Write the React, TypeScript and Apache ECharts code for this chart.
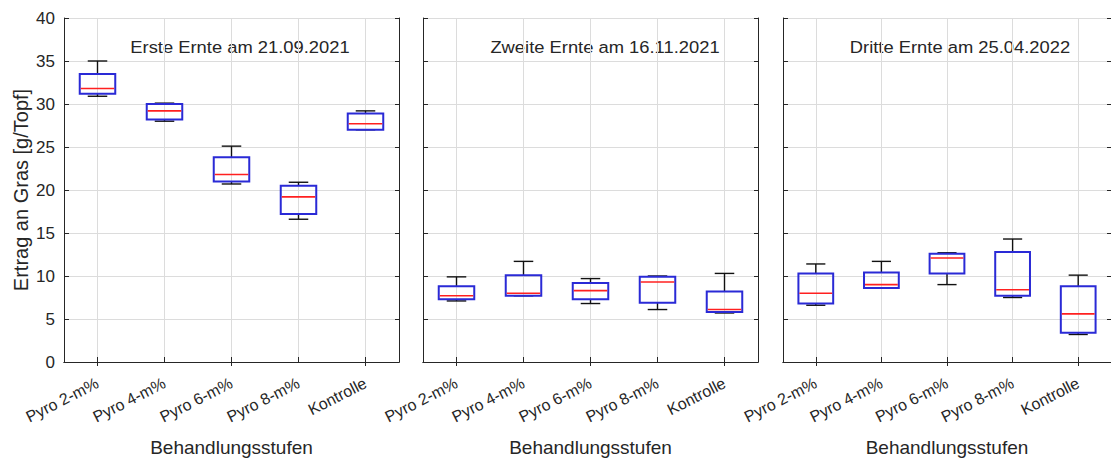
import React, { useEffect, useRef } from "react";
import * as echarts from "echarts";

const categories = ["Pyro 2-m%", "Pyro 4-m%", "Pyro 6-m%", "Pyro 8-m%", "Kontrolle"];
const panelTitles = [
  "Erste Ernte am 21.09.2021",
  "Zweite Ernte am 16.11.2021",
  "Dritte Ernte am 25.04.2022",
];
// each box: [lower whisker, Q1, median, Q3, upper whisker]
const ernte1 = [
  [30.9, 31.2, 31.8, 33.5, 35.0],
  [28.0, 28.2, 29.2, 30.0, 30.1],
  [20.7, 21.0, 21.8, 23.8, 25.1],
  [16.6, 17.2, 19.2, 20.5, 20.9],
  [27.0, 27.0, 27.7, 28.9, 29.2],
];
const ernte2 = [
  [7.1, 7.3, 7.7, 8.8, 9.9],
  [7.7, 7.7, 8.0, 10.1, 11.7],
  [6.8, 7.3, 8.3, 9.2, 9.7],
  [6.1, 6.9, 9.3, 9.9, 10.0],
  [5.7, 5.8, 6.1, 8.2, 10.3],
];
const ernte3 = [
  [6.6, 6.8, 8.0, 10.3, 11.4],
  [8.6, 8.6, 9.0, 10.4, 11.7],
  [9.0, 10.3, 12.1, 12.6, 12.7],
  [7.5, 7.7, 8.4, 12.8, 14.3],
  [3.2, 3.4, 5.6, 8.8, 10.1],
];
const yMin = 0;
const yMax = 40;
const yStep = 5;
const yAxisName = "Ertrag an Gras [g/Topf]";
const xAxisName = "Behandlungsstufen";

const FONT = "'Liberation Sans', Arial, Helvetica, sans-serif";
const TXT = "#262626";
const GRIDC = "#dcdcdc";

export default function App() {
  const ref = useRef<HTMLDivElement>(null);
  useEffect(() => {
    if (!ref.current) return;
    const chart = echarts.init(ref.current, null, { renderer: "svg" });
    const panels = [ernte1, ernte2, ernte3];
    const lefts = [64, 423, 783];
    const width = 335;
    const grids = lefts.map((l) => ({
      left: l,
      top: 18,
      width: width,
      height: 348,
      containLabel: false,
    }));
    const xAxes: any[] = [];
    const yAxes: any[] = [];
    const series: any[] = [];
    panels.forEach((data, i) => {
      xAxes.push({
        type: "category",
        gridIndex: i,
        data: categories,
        position: "bottom",
        boundaryGap: true,
        axisLine: { show: true, lineStyle: { color: TXT, width: 1 } },
        axisTick: { show: true, inside: true, alignWithLabel: true, length: 5, lineStyle: { color: TXT } },
        axisLabel: {
          rotate: 27,
          fontSize: 16,
          color: TXT,
          fontFamily: FONT,
          margin: 20,
          interval: 0,
        },
        splitLine: { show: true, alignWithLabel: true, lineStyle: { color: GRIDC, width: 1 } },
        name: xAxisName,
        nameLocation: "middle",
        nameGap: 76,
        nameTextStyle: { fontSize: 19, color: TXT, fontFamily: FONT },
      });
      xAxes.push({
        type: "category",
        gridIndex: i,
        data: categories,
        position: "top",
        boundaryGap: true,
        axisLine: { show: true, lineStyle: { color: TXT, width: 1 } },
        axisTick: { show: true, inside: true, alignWithLabel: true, length: 4, lineStyle: { color: TXT } },
        axisLabel: { show: false },
        splitLine: { show: false },
      });
      yAxes.push({
        type: "value",
        gridIndex: i,
        min: yMin,
        max: yMax,
        interval: yStep,
        position: "left",
        axisLine: { show: true, lineStyle: { color: TXT, width: 1 } },
        axisTick: { show: true, inside: true, length: 5, lineStyle: { color: TXT } },
        axisLabel: { show: i === 0, fontSize: 17, color: TXT, fontFamily: FONT, margin: 9 },
        splitLine: { show: true, lineStyle: { color: GRIDC, width: 1 } },
        name: i === 0 ? yAxisName : "",
        nameLocation: "middle",
        nameGap: 33,
        nameTextStyle: { fontSize: 20, color: TXT, fontFamily: FONT },
      });
      yAxes.push({
        type: "value",
        gridIndex: i,
        min: yMin,
        max: yMax,
        interval: yStep,
        position: "right",
        axisLine: { show: true, lineStyle: { color: TXT, width: 1 } },
        axisTick: { show: true, inside: true, length: 4, lineStyle: { color: TXT } },
        axisLabel: { show: false },
        splitLine: { show: false },
      });
      series.push({
        type: "custom",
        xAxisIndex: i * 2,
        yAxisIndex: i * 2,
        encode: { x: 0, y: [1, 2, 3, 4, 5] },
        data: data.map((d, k) => [k, ...d]),
        renderItem: (params: any, api: any) => {
          const k = api.value(0);
          const lo = api.coord([k, api.value(1)]);
          const q1 = api.coord([k, api.value(2)]);
          const md = api.coord([k, api.value(3)]);
          const q3 = api.coord([k, api.value(4)]);
          const hi = api.coord([k, api.value(5)]);
          const band = api.size([1, 0])[0];
          const bw = band * 0.53;
          const cw = bw * 0.55;
          const cx = q1[0];
          const black = { stroke: "#111111", lineWidth: 1.4, fill: null };
          return {
            type: "group",
            children: [
              { type: "line", shape: { x1: cx, y1: q3[1], x2: cx, y2: hi[1] }, style: black },
              { type: "line", shape: { x1: cx, y1: q1[1], x2: cx, y2: lo[1] }, style: black },
              { type: "line", shape: { x1: cx - cw / 2, y1: hi[1], x2: cx + cw / 2, y2: hi[1] }, style: black },
              { type: "line", shape: { x1: cx - cw / 2, y1: lo[1], x2: cx + cw / 2, y2: lo[1] }, style: black },
              {
                type: "rect",
                shape: { x: cx - bw / 2, y: q3[1], width: bw, height: q1[1] - q3[1] },
                style: { fill: "none", stroke: "#2a2ad6", lineWidth: 2 },
              },
              {
                type: "line",
                shape: { x1: cx - bw / 2 + 1, y1: md[1], x2: cx + bw / 2 - 1, y2: md[1] },
                style: { stroke: "#ff2020", lineWidth: 1.6 },
              },
            ],
          };
        },
      });
    });
    const titleX = [240, 605, 960];
    const graphic = panelTitles.map((t, i) => ({
      type: "text",
      x: titleX[i],
      y: 47,
      scaleX: 1.08,
      style: {
        text: t,
        font: `17px ${FONT}`,
        fill: TXT,
        align: "center",
        verticalAlign: "middle",
      },
    }));
    chart.setOption({
      animation: false,
      backgroundColor: "#ffffff",
      grid: grids,
      xAxis: xAxes,
      yAxis: yAxes,
      series,
      graphic,
    });
    return () => chart.dispose();
  }, []);
  return (
    <div
      ref={ref}
      style={{ position: "absolute", left: 0, top: 0, width: 1111, height: 462 }}
    />
  );
}
